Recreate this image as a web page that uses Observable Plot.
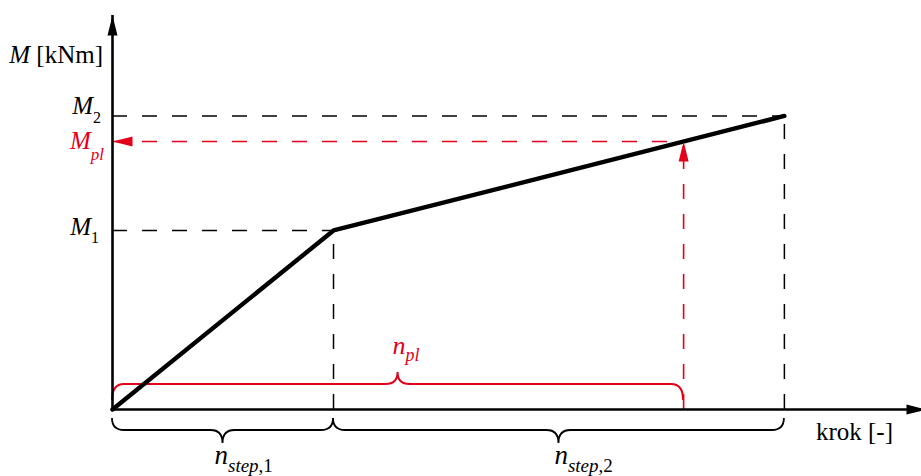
<!DOCTYPE html>
<html><head><meta charset="utf-8">
<script src="https://cdn.jsdelivr.net/npm/d3@7"></script>
<script src="https://cdn.jsdelivr.net/npm/@observablehq/plot@0.6"></script>
<style>html,body{margin:0;padding:0;background:#fff;} svg{display:block;background:#fff}</style>
</head><body><div id="chart"></div>
<script>
// ---- data (abstract units) ----
const kroki   = [0, 1.0, 3.04];   // krok: 0, n_step,1, n_step,1 + n_step,2
const momenty = [0, 1.0, 1.64];   // M: 0, M1, M2
const krokPl   = 2.584;           // n_pl
const momentPl = 1.497;           // M_pl
const osX = 3.683;                // extent of the x axis
const osY = 2.201;                // extent of the y axis
const nazwyOsi = ["krok [-]", "M", " [kNm]"];
const etykietyM = [["M", "2"], ["M", "pl"], ["M", "1"]];
const etykietyN = [["n", "step", ",1"], ["n", "step", ",2"], ["n", "pl"]];

const RED = "#e2001a";
const FONT = "'Liberation Serif','DejaVu Serif',serif";

const points = kroki.map((k, i) => ({k, m: momenty[i]}));
const blackH = [{k: kroki[1], m: momenty[1]}, {k: kroki[2], m: momenty[2]}];

const arrowSym = {draw(ctx) { ctx.moveTo(0, 0); ctx.lineTo(5, 20); ctx.lineTo(-5, 20); ctx.closePath(); }};
const headsBlack = [{k: osX, m: 0, rot: 90}, {k: 0, m: osY, rot: 0}];
const headsRed = [{k: 0, m: momentPl, rot: -90}, {k: krokPl, m: momentPl, rot: 0}];

function braces(spans, color, width, o0, o1, o2) {
  return (index, scales) => {
    const X = scales.x, Y = scales.y;
    const g = d3.create("svg:g").attr("fill", "none").attr("stroke", color).attr("stroke-width", width);
    const ya = Y(0);
    for (const [a, b] of spans) {
      const xa = X(a), xb = X(b), xt = (xa + xb) / 2, r = 12;
      const y0 = ya + o0, y1 = ya + o1, y2 = ya + o2;
      g.append("path").attr("d",
        `M${xa},${y0}Q${xa},${y1} ${xa + r},${y1}L${xt - r},${y1}Q${xt},${y1} ${xt},${y2}` +
        `Q${xt},${y1} ${xt + r},${y1}L${xb - r},${y1}Q${xb},${y1} ${xb},${y0}`);
    }
    return g.node();
  };
}

function richText(items) {
  return (index, scales) => {
    const g = d3.create("svg:g").attr("font-family", FONT).style("white-space", "pre");
    for (const it of items) {
      const t = g.append("text")
        .attr("x", scales.x(it.k) + it.dx).attr("y", scales.y(it.m) + it.dy)
        .attr("text-anchor", it.anchor).attr("font-size", it.size).attr("fill", it.color);
      let shifted = false;
      for (const p of it.parts) {
        const s = t.append("tspan").text(p.t);
        if (p.i) s.attr("font-style", "italic");
        if (p.sub) {
          s.attr("font-size", it.sub);
          if (!shifted) { s.attr("dy", it.shift); shifted = true; }
        }
      }
    }
    return g.node();
  };
}

const labels = [
  {k: 0, m: osY, dx: -9, dy: 48, anchor: "end", size: 25, color: "black",
   parts: [{t: nazwyOsi[1], i: true}, {t: nazwyOsi[2]}]},
  {k: osX, m: 0, dx: -33, dy: 31, anchor: "end", size: 25, color: "black",
   parts: [{t: nazwyOsi[0]}]},
  {k: 0, m: momenty[2], dx: -11, dy: -1, anchor: "end", size: 25, sub: 16, shift: 9, color: "black",
   parts: [{t: etykietyM[0][0], i: true}, {t: etykietyM[0][1], sub: true}]},
  {k: 0, m: momentPl, dx: -8, dy: 8, anchor: "end", size: 25, sub: 17, shift: 11, color: RED,
   parts: [{t: etykietyM[1][0], i: true}, {t: etykietyM[1][1], i: true, sub: true}]},
  {k: 0, m: momenty[1], dx: -13, dy: 5, anchor: "end", size: 25, sub: 16, shift: 8, color: "black",
   parts: [{t: etykietyM[2][0], i: true}, {t: etykietyM[2][1], sub: true}]},
  {k: kroki[1] / 2, m: 0, dx: -8, dy: 55, anchor: "start", size: 27, sub: 19, shift: 8, color: "black",
   parts: [{t: etykietyN[0][0], i: true}, {t: etykietyN[0][1], i: true, sub: true}, {t: etykietyN[0][2], sub: true}]},
  {k: (kroki[1] + kroki[2]) / 2, m: 0, dx: -4, dy: 55, anchor: "start", size: 27, sub: 19, shift: 8, color: "black",
   parts: [{t: etykietyN[1][0], i: true}, {t: etykietyN[1][1], i: true, sub: true}, {t: etykietyN[1][2], sub: true}]},
  {k: krokPl / 2, m: 0, dx: -5, dy: -55, anchor: "start", size: 26, sub: 18, shift: 7, color: RED,
   parts: [{t: etykietyN[2][0], i: true}, {t: etykietyN[2][1], i: true, sub: true}]}
];

const chart = Plot.plot({
  width: 921, height: 476, margin: 0,
  style: {background: "#fff", fontFamily: FONT},
  x: {domain: [0, osX], range: [112, 926], axis: null},
  y: {domain: [0, osY], range: [409, 15], axis: null},
  marks: [
    // dashed guides
    Plot.ruleY(blackH, {y: "m", x1: d => 0, x2: "k", stroke: "black", strokeWidth: 1.5, strokeDasharray: "15,15"}),
    Plot.ruleX(blackH, {x: "k", y1: d => 0, y2: "m", stroke: "black", strokeWidth: 1.5, strokeDasharray: "15,15"}),
    Plot.ruleY([momentPl], {x1: d => 0, x2: d => krokPl, stroke: RED, strokeWidth: 1.6, strokeDasharray: "15,15"}),
    Plot.ruleX([krokPl], {y1: d => 0, y2: d => momentPl, stroke: RED, strokeWidth: 1.6, strokeDasharray: "15,15"}),
    // braces
    braces([[0, krokPl]], RED, 2, -9, -25, -37),
    braces([[0, kroki[1]], [kroki[1], kroki[2]]], "black", 1.8, 9, 21, 34),
    // main curve
    Plot.line(points, {x: "k", y: "m", stroke: "black", strokeWidth: 4.4, strokeLinejoin: "miter"}),
    // axes
    Plot.ruleY([0], {x1: d => 0, x2: d => osX, stroke: "black", strokeWidth: 2.6}),
    Plot.ruleX([0], {y1: d => 0, y2: d => osY, stroke: "black", strokeWidth: 2.6}),
    // arrowheads
    Plot.dot(headsBlack, {x: "k", y: "m", rotate: "rot", symbol: arrowSym, fill: "black", stroke: "none"}),
    Plot.dot(headsRed, {x: "k", y: "m", rotate: "rot", symbol: arrowSym, fill: RED, stroke: "none"}),
    // labels
    richText(labels)
  ]
});
document.getElementById("chart").appendChild(chart);
</script>
</body></html>
